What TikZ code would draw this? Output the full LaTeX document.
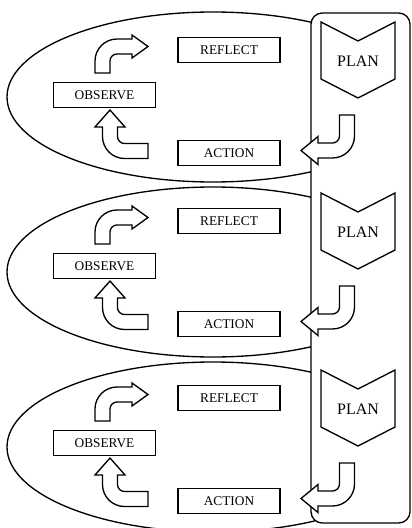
\documentclass[tikz,border=0pt]{standalone}
\usepackage{fontspec}
\setmainfont{Liberation Serif}
\begin{document}
\begin{tikzpicture}[x=0.75pt,y=-0.75pt, line width=1pt, line join=miter,
  box/.style={draw, fill=white, minimum width=76.5pt, minimum height=18.5pt, inner sep=0pt, font=\fontsize{10}{12}\selectfont},
  plantext/.style={font=\fontsize{12}{14}\selectfont, inner sep=0pt},
  blockarrow/.style={draw, fill=white},
  ring/.style={draw, fill=white},
  frame/.style={draw, fill=white, rounded corners=8.5pt}]
\useasboundingbox (0,0) rectangle (411,528);
% ellipses (their right ends lie behind the frame)
\begin{scope}
  \clip (-5,-5) rectangle (315,533);
  \foreach \cy in {97,272,447}
    \draw[ring] (213,\cy) ellipse [x radius=206, y radius=85];
\end{scope}
% frame
\draw[frame] (311,13) rectangle (410,523);
% three cycles
\foreach \o/\i in {0/1,171/2,348/3}{
  \begin{scope}[shift={(0,\o)}]
    \node[box] (refl\i) at (229,50) {REFLECT};
    \node[box] (obs\i) at (104.5,95) {OBSERVE};
    \node[box] (act\i) at (229,153) {ACTION};
    \draw[blockarrow] (321,22) -- (358,41) -- (395,22) -- (395,79) -- (358,98) -- (321,79) -- cycle;
    \node[plantext] (plan\i) at (358,61.5) {PLAN};
    % observe -> reflect
    \draw[blockarrow] (95,73) -- (95,61) arc[start angle=180, end angle=270, radius=22]
      -- (132,39) -- (132,35) -- (148,46.5) -- (132,58) -- (132,54) -- (117,54)
      arc[start angle=270, end angle=180, radius=7] -- (110,73) -- cycle;
    % action -> observe
    \draw[blockarrow] (148,143.5) -- (124.5,143.5) arc[start angle=90, end angle=180, radius=7]
      -- (117.5,127) -- (125,127) -- (110,110) -- (95,127) -- (102.5,127) -- (102.5,136.5)
      arc[start angle=180, end angle=90, radius=22] -- (148,158.5) -- cycle;
    % plan -> action
    \draw[blockarrow] (339.5,115) -- (354.5,115) -- (354.5,136) arc[start angle=0, end angle=90, radius=22]
      -- (318,158) -- (318,164.5) -- (301,150.5) -- (318,136.5) -- (318,143) -- (332.5,143)
      arc[start angle=90, end angle=0, radius=7] -- cycle;
  \end{scope}
}
\end{tikzpicture}
\end{document}
